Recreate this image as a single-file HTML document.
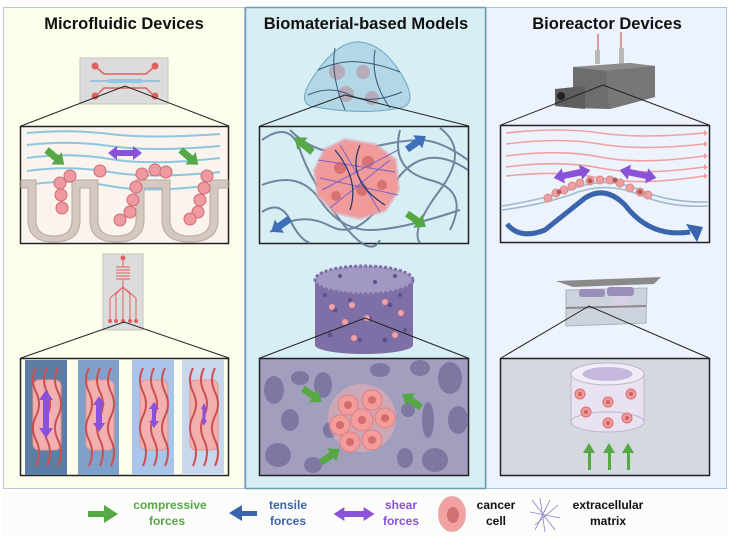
<!DOCTYPE html>
<html><head><meta charset="utf-8"><style>
html,body{margin:0;padding:0;background:#fff;}
svg{display:block;font-family:"Liberation Sans",sans-serif;}
</style></head><body>
<svg width="730" height="537" viewBox="0 0 730 537" xmlns="http://www.w3.org/2000/svg">
<defs>
 <path id="ga" d="M-11,-3.5 H2 V-8 L12,0 L2,8 V3.5 H-11 Z"/>
 <path id="da" d="M-17,0 L-8,-7 V-3 H8 V-7 L17,0 L8,7 V3 H-8 V7 Z"/>
 <g id="cell"><circle r="5" fill="#f09a9a" stroke="#d97070" stroke-width="1"/><circle r="2" fill="#c96464"/></g>
</defs>
<rect width="730" height="537" fill="#fff"/>
<!-- panels -->
<rect x="3.5" y="7.5" width="241" height="481" fill="#fdfdec" stroke="#b8c6df"/>
<rect x="245.5" y="7.5" width="240" height="481" fill="#d7eef5" stroke="#6f9cb4" stroke-width="1.5"/>
<rect x="486.5" y="7.5" width="240" height="481" fill="#ecf3fc" stroke="#b0c2e2"/>
<text x="124" y="29" text-anchor="middle" font-weight="bold" font-size="16.5" fill="#111">Microfluidic Devices</text>
<text x="366" y="29" text-anchor="middle" font-weight="bold" font-size="16.5" fill="#111">Biomaterial-based Models</text>
<text x="607" y="29" text-anchor="middle" font-weight="bold" font-size="16.5" fill="#111">Bioreactor Devices</text>

<!-- LEFT TOP device -->
<rect x="80" y="58" width="88" height="46" fill="#dcdcdc" stroke="#c4c4c4"/>
<g stroke="#e06060" stroke-width="1.5" fill="none">
<path d="M96,67 L104,74 H146 L154,67 M96,96 L104,88 H146 L154,96"/>
</g>
<g fill="#e06060"><circle cx="95" cy="66" r="3.5"/><circle cx="155" cy="66" r="3.5"/><circle cx="95" cy="96" r="3.5"/><circle cx="155" cy="96" r="3.5"/></g>
<path d="M90,81 H160" stroke="#5aa8d8" stroke-width="1"/><rect x="108" y="79" width="34" height="4" fill="#8ec8e4"/>
<path d="M21,126 L125,86 L229,126" fill="none" stroke="#222" stroke-width="1"/>
<rect x="20.5" y="126.5" width="208" height="117" fill="#fbf4ee" stroke="#222" stroke-width="1.5"/>
<g stroke="#8cc6e0" stroke-width="2" fill="none">
<path d="M27,133 Q70,129 110,134 T220,134"/>
<path d="M27,145 Q70,140 110,146 T220,146"/>
<path d="M27,158 Q70,152 110,159 T220,158"/>
<path d="M27,171 Q70,165 110,172 T220,172"/>
<path d="M27,185 Q70,178 110,186 T220,184"/>
</g>
<path d="M21,180 H36 V220 Q36,236 54,236 Q72,236 72,220 V180 H98 V220 Q98,236 116,236 Q136,236 136,220 V180 H170 V220 Q170,236 190,236 Q210,236 210,220 V180 H228 V188 H218 V220 Q218,242 190,242 Q162,242 162,220 V188 H144 V220 Q144,242 116,242 Q90,242 90,220 V188 H80 V220 Q80,242 54,242 Q28,242 28,220 V188 H21 Z" fill="#d4c8c0" stroke="#b8aaa0"/>
<g fill="#ef9aa0" stroke="#d06a74" stroke-width="1">
<circle cx="70" cy="176" r="6"/><circle cx="60" cy="183" r="6"/><circle cx="61" cy="195" r="6"/><circle cx="62" cy="208" r="6"/>
<circle cx="100" cy="171" r="6"/><circle cx="142" cy="174" r="6"/><circle cx="155" cy="170" r="6"/><circle cx="166" cy="172" r="6"/>
<circle cx="136" cy="187" r="6"/><circle cx="133" cy="200" r="6"/><circle cx="130" cy="212" r="6"/><circle cx="120" cy="220" r="6"/>
<circle cx="207" cy="176" r="6"/><circle cx="204" cy="188" r="6"/><circle cx="200" cy="200" r="6"/><circle cx="198" cy="212" r="6"/><circle cx="190" cy="219" r="6"/>
</g>
<use href="#ga" transform="translate(55,157) rotate(40)" fill="#55a844"/>
<use href="#ga" transform="translate(189,157) rotate(40)" fill="#55a844"/>
<use href="#da" transform="translate(125,153)" fill="#8a52d8"/>

<!-- LEFT BOTTOM device -->
<rect x="103" y="254" width="40" height="76" fill="#dcdcdc" stroke="#c4c4c4"/>
<g stroke="#e06060" stroke-width="1" fill="none">
<path d="M116,267 H130 M116,270 H130 M116,273 H130 M116,276 H130 M116,279 H130"/>
<path d="M123,258 V267 M123,279 V287 M110,298 L123,287 L136,298 M116,294 L123,287 L130,294 M123,287 V321 M110,298 V321 M136,298 V321 M116,294 V321 M130,294 V321"/>
</g>
<g fill="#e06060"><circle cx="123" cy="258" r="2.5"/><circle cx="110" cy="321" r="2"/><circle cx="116" cy="321" r="2"/><circle cx="123" cy="321" r="2"/><circle cx="130" cy="321" r="2"/><circle cx="136" cy="321" r="2"/></g>
<path d="M21,358 L124,322 L229,358" fill="none" stroke="#222" stroke-width="1"/>
<rect x="20.5" y="358.5" width="208" height="117" fill="#fdfdec" stroke="#222" stroke-width="1.5"/>
<rect x="25" y="360" width="42" height="115" fill="#5d7ea4"/>
<rect x="78" y="360" width="41" height="115" fill="#7fa0c8"/>
<rect x="132" y="360" width="42" height="115" fill="#a9c6ea"/>
<rect x="182" y="360" width="42" height="115" fill="#c8d7eb"/>
<g>
 <g id="strip">
  <rect x="33" y="380" width="28" height="70" rx="6" fill="#f2b0b0" stroke="#e39494"/>
  <g stroke="#cc5050" stroke-width="2" fill="none">
   <path d="M36,368 Q30,380 36,392 T36,416 T36,440 T36,466"/>
   <path d="M47,368 Q41,380 47,392 T47,416 T47,440 T47,466"/>
   <path d="M58,368 Q52,380 58,392 T58,416 T58,440 T58,466"/>
  </g>
 </g>
 <use href="#strip" transform="translate(53,0)"/>
 <use href="#strip" transform="translate(107,0)"/>
 <use href="#strip" transform="translate(157,0)"/>
</g>
<g fill="#8a52d8">
<path d="M46,390 L53,400 H49 V428 H53 L46,438 L39,428 H43 V400 H39 Z"/>
<path d="M99,396 L105,405 H102 V423 H105 L99,432 L93,423 H96 V405 H93 Z"/>
<path d="M154,402 L159,409 H156 V421 H159 L154,428 L149,421 H152 V409 H149 Z"/>
<path d="M204,403 L207,409 H205.5 V420 H207 L204,426 L201,420 H202.5 V409 H201 Z"/>
</g>

<!-- MIDDLE TOP hydrogel -->
<path d="M310,106 Q296,100 318,70 Q340,40 360,42 Q382,44 400,72 Q420,104 400,108 Q360,116 310,106 Z" fill="#a9d2e4" fill-opacity="0.8" stroke="#6ea4c0"/>
<g fill="#b89aa8" opacity="0.7"><circle cx="337" cy="72" r="8"/><circle cx="363" cy="72" r="7"/><circle cx="346" cy="94" r="8"/><circle cx="372" cy="98" r="7"/></g>
<g stroke="#355878" stroke-width="1" fill="none">
<path d="M318,70 Q340,60 360,62 T400,72"/><path d="M308,95 Q330,85 350,95 T402,92"/><path d="M335,48 Q330,75 345,110"/><path d="M375,50 Q370,80 390,108"/>
</g>
<path d="M260,126 L345,95 L469,126" fill="none" stroke="#222" stroke-width="1"/>
<rect x="259.5" y="126.5" width="209" height="117" fill="#d7eef5" stroke="#222" stroke-width="1.5"/>
<g stroke="#5b7590" stroke-width="2" fill="none" opacity="0.85">
<path d="M262,140 Q290,120 300,150 T340,220 T380,240"/>
<path d="M262,185 Q300,170 320,200 T370,230 T460,210"/>
<path d="M270,232 Q300,210 330,226 T390,190 T468,170"/>
<path d="M290,130 Q320,160 360,150 T420,140 T468,160"/>
<path d="M400,130 Q390,170 430,180 T450,230"/>
<path d="M440,128 Q470,150 440,190 T420,243"/>
<path d="M262,212 Q280,200 290,220 T310,243"/>
</g>
<path d="M325,150 L345,140 L375,145 L395,160 L398,190 L385,210 L360,218 L335,212 L318,195 L315,170 Z" fill="#f09a9a" stroke="#e6a0a8" stroke-width="4" stroke-opacity="0.6"/>
<g fill="#d87272"><circle cx="340" cy="168" r="6"/><circle cx="368" cy="162" r="6"/><circle cx="362" cy="190" r="6"/><circle cx="336" cy="196" r="5"/><circle cx="382" cy="185" r="5"/></g>
<g stroke="#8060c8" stroke-width="1" fill="none"><path d="M318,160 L395,172 M322,190 L398,150 M340,145 L380,212 M330,208 L390,160 M320,178 L398,195"/></g>
<g stroke="#1e3a6a" stroke-width="1.2" fill="none"><path d="M335,150 Q360,180 350,210 M360,145 Q345,180 385,205"/></g>
<use href="#ga" transform="translate(304,145) rotate(-140)" fill="#55a844"/>
<use href="#ga" transform="translate(416,143) rotate(-35)" fill="#3e6fb8"/>
<use href="#ga" transform="translate(281,225) rotate(145)" fill="#3e6fb8"/>
<use href="#ga" transform="translate(416,220) rotate(35)" fill="#55a844"/>

<!-- MIDDLE BOTTOM scaffold -->
<rect x="315" y="280" width="98" height="65" fill="#7e70a6"/>
<ellipse cx="364" cy="345" rx="49" ry="9" fill="#7e70a6"/>
<ellipse cx="364" cy="280" rx="49" ry="14" fill="#a298c4" stroke="#7e70a6" stroke-width="3" stroke-dasharray="3 2"/>
<g fill="#5e4f8e"><circle cx="325" cy="295" r="2"/><circle cx="335" cy="310" r="2.5"/><circle cx="350" cy="300" r="2"/><circle cx="370" cy="318" r="2"/><circle cx="390" cy="305" r="2.5"/><circle cx="405" cy="330" r="2"/><circle cx="330" cy="335" r="2.5"/><circle cx="360" cy="340" r="2"/><circle cx="385" cy="340" r="2.5"/><circle cx="345" cy="322" r="2"/><circle cx="400" cy="295" r="2"/><circle cx="340" cy="276" r="2"/><circle cx="375" cy="282" r="2"/><circle cx="395" cy="276" r="2"/></g>
<g fill="#f2a0a0"><circle cx="332" cy="307" r="3"/><circle cx="352" cy="305" r="3"/><circle cx="385" cy="302" r="3"/><circle cx="401" cy="313" r="3"/><circle cx="345" cy="322" r="3"/><circle cx="367" cy="318" r="3"/><circle cx="395" cy="335" r="3"/><circle cx="354" cy="338" r="3"/></g>
<path d="M260,358 L365,318 L468,358" fill="none" stroke="#222" stroke-width="1"/>
<rect x="259.5" y="358.5" width="209" height="117" fill="#a29ebe" stroke="#222" stroke-width="1.5"/>
<g fill="#7d78a2">
<ellipse cx="274" cy="390" rx="10" ry="14"/><ellipse cx="300" cy="378" rx="9" ry="7"/><ellipse cx="323" cy="385" rx="9" ry="13"/><ellipse cx="290" cy="420" rx="9" ry="11"/><ellipse cx="278" cy="455" rx="13" ry="12"/><ellipse cx="313" cy="465" rx="9" ry="8"/>
<ellipse cx="420" cy="368" rx="10" ry="8"/><ellipse cx="450" cy="378" rx="12" ry="16"/><ellipse cx="408" cy="410" rx="7" ry="7"/><ellipse cx="428" cy="420" rx="6" ry="18"/><ellipse cx="458" cy="420" rx="10" ry="14"/><ellipse cx="435" cy="460" rx="13" ry="12"/><ellipse cx="405" cy="458" rx="8" ry="10"/><ellipse cx="380" cy="370" rx="10" ry="7"/><ellipse cx="330" cy="430" rx="7" ry="8"/>
</g>
<circle cx="362" cy="418" r="34" fill="#f2b2b2" opacity="0.5"/>
<g fill="#f29c9c" stroke="#e08080">
<circle cx="348" cy="405" r="10"/><circle cx="372" cy="400" r="10"/><circle cx="385" cy="418" r="10"/><circle cx="340" cy="425" r="10"/><circle cx="362" cy="420" r="11"/><circle cx="372" cy="440" r="10"/><circle cx="350" cy="442" r="10"/>
</g>
<g fill="#d46c6c"><circle cx="348" cy="405" r="4"/><circle cx="372" cy="400" r="4"/><circle cx="385" cy="418" r="4"/><circle cx="340" cy="425" r="4"/><circle cx="362" cy="420" r="4"/><circle cx="372" cy="440" r="4"/><circle cx="350" cy="442" r="4"/></g>
<use href="#ga" transform="translate(312,395) rotate(35)" fill="#55a844"/>
<use href="#ga" transform="translate(412,401) rotate(-145)" fill="#55a844"/>
<use href="#ga" transform="translate(330,456) rotate(-35)" fill="#55a844"/>

<!-- RIGHT TOP bioreactor -->
<path d="M598,34 V56 M621,32 V56" stroke="#c04040" stroke-width="1"/>
<rect x="595" y="50" width="5" height="14" fill="#b8b8b8"/><rect x="619" y="48" width="5" height="16" fill="#b8b8b8"/>
<path d="M573,67 L630,63 L655,66 L655,97 L610,109 L573,108 Z" fill="#6d6d6d"/>
<path d="M573,67 L630,63 L655,66 L606,71 Z" fill="#8c8c8c"/>
<path d="M606,71 L655,66 L655,97 L609,109 Z" fill="#777"/>
<path d="M555,89 L585,86 L585,109 L555,106 Z" fill="#5e5e5e"/>
<circle cx="561" cy="96" r="4" fill="#222"/>
<path d="M501,125 L603,85 L709,125" fill="none" stroke="#222" stroke-width="1"/>
<rect x="500.5" y="125.5" width="209" height="117" fill="#ecf3fc" stroke="#222" stroke-width="1.5"/>
<g stroke="#f0a0a0" stroke-width="1.6" fill="none">
<path d="M506,133 Q560,127 600,133 T704,133"/>
<path d="M506,144 Q560,137 600,144 T704,144"/>
<path d="M506,156 Q560,149 600,157 T704,156"/>
<path d="M506,167 Q560,160 600,168 T704,167"/>
<path d="M506,176 Q560,170 600,178 T704,176"/>
</g>
<g fill="#f0a0a0"><path d="M704,130 L708,133 L704,136Z"/><path d="M704,141 L708,144 L704,147Z"/><path d="M704,153 L708,156 L704,159Z"/><path d="M704,164 L708,167 L704,170Z"/><path d="M704,173 L708,176 L704,179Z"/></g>
<path d="M502,206 Q540,200 570,190 Q605,175 640,190 Q670,203 709,202" stroke="#9fb8cc" stroke-width="1.5" fill="none"/>
<path d="M502,210 Q540,205 570,195 Q605,180 640,195 Q670,208 709,206" stroke="#9fb8cc" stroke-width="1.5" fill="none"/>
<g fill="#eca0a0" stroke="#d88a8a">
<circle cx="548" cy="198" r="4"/><circle cx="556" cy="193" r="4"/><circle cx="564" cy="190" r="4"/><circle cx="572" cy="186" r="4"/><circle cx="580" cy="183" r="4"/><circle cx="590" cy="181" r="4"/><circle cx="600" cy="180" r="4"/><circle cx="610" cy="180" r="4"/><circle cx="620" cy="183" r="4"/><circle cx="630" cy="188" r="4"/><circle cx="640" cy="192" r="4"/><circle cx="648" cy="195" r="4"/>
</g>
<g fill="#b85858"><circle cx="559" cy="192" r="2.5"/><circle cx="590" cy="181" r="2.5"/><circle cx="615" cy="180" r="2.5"/><circle cx="640" cy="192" r="2.5"/></g>
<path d="M507,224 Q520,240 545,230 Q570,210 585,198 Q605,185 625,205 Q650,238 690,232" stroke="#3a64ac" stroke-width="5" fill="none"/>
<path d="M686,224 L703,227 L697,242 Z" fill="#3a64ac"/>
<use href="#da" transform="translate(572,174) rotate(-12) scale(1.1)" fill="#8a52d8"/>
<use href="#da" transform="translate(638,174) rotate(12) scale(1.1)" fill="#8a52d8"/>

<!-- RIGHT BOTTOM compression -->
<path d="M566,290 L647,288 L646,323 L566,326 Z" fill="#cdd3dc" stroke="#aab2be"/>
<path d="M556,281 L661,277 L654,284 L573,287 Z" fill="#8a8a8a"/>
<rect x="579" y="289" width="26" height="8" rx="3" fill="#9a8eba"/><rect x="607" y="287" width="27" height="9" rx="3" fill="#9a8eba"/>
<rect x="612" y="297" width="17" height="12" fill="#d8d0e6"/>
<path d="M566,308 L646,306" stroke="#8a8a8a" stroke-width="2"/>
<path d="M501,358 L589,306 L709,358" fill="none" stroke="#222" stroke-width="1"/>
<rect x="500.5" y="358.5" width="209" height="117" fill="#d5d9df" stroke="#222" stroke-width="1.5"/>
<rect x="571" y="374" width="73" height="48" fill="#e9e2f0"/>
<ellipse cx="607.5" cy="422" rx="36.5" ry="10" fill="#e9e2f0" stroke="#c0b4d0"/>
<path d="M571,374 V422 M644,374 V422" stroke="#c0b4d0"/>
<ellipse cx="607.5" cy="374" rx="36.5" ry="11" fill="#f1edf6" stroke="#c0b4d0"/>
<ellipse cx="607.5" cy="374" rx="25" ry="7" fill="#c6b8dc"/>
<g><use href="#cell" x="580" y="394"/><use href="#cell" x="608" y="402"/><use href="#cell" x="631" y="394"/><use href="#cell" x="586" y="412"/><use href="#cell" x="627" y="418"/><use href="#cell" x="608" y="423"/></g>
<g fill="#55a844">
<path d="M588,470 V453 H583 L589,443 L595,453 H591 V470 Z"/>
<path d="M608,470 V453 H603 L609,443 L615,453 H611 V470 Z"/>
<path d="M627,470 V453 H622 L628,443 L634,453 H630 V470 Z"/>
</g>

<!-- LEGEND -->
<rect x="2" y="492" width="726" height="44" fill="#fcfcfa"/>
<path d="M88,511 H104 V505 L118,514 L104,523 V517 H88 Z" fill="#55a844"/>
<text x="170" y="509" text-anchor="middle" font-weight="bold" font-size="12" fill="#55a844">compressive</text>
<text x="167" y="525" text-anchor="middle" font-weight="bold" font-size="12" fill="#55a844">forces</text>
<path d="M257,511 H242 V505 L229,513 L242,521 V516 H257 Z" fill="#3a64ac"/>
<text x="288" y="509" text-anchor="middle" font-weight="bold" font-size="12" fill="#3a64ac">tensile</text>
<text x="288" y="525" text-anchor="middle" font-weight="bold" font-size="12" fill="#3a64ac">forces</text>
<use href="#da" transform="translate(354,514) scale(1.2,1)" fill="#8a52d8"/>
<text x="401" y="509" text-anchor="middle" font-weight="bold" font-size="12" fill="#8a52d8">shear</text>
<text x="401" y="525" text-anchor="middle" font-weight="bold" font-size="12" fill="#8a52d8">forces</text>
<ellipse cx="452" cy="514" rx="13" ry="17" fill="#f2a0a0" stroke="#e8a8a8" stroke-width="2"/>
<ellipse cx="453" cy="515" rx="6" ry="8" fill="#d07070"/>
<text x="496" y="509" text-anchor="middle" font-weight="bold" font-size="12" fill="#111">cancer</text>
<text x="496" y="525" text-anchor="middle" font-weight="bold" font-size="12" fill="#111">cell</text>
<g stroke="#8a80c8" stroke-width="0.8" fill="none"><path d="M532,500 L555,530 M535,525 L558,505 M530,512 L560,518 M540,498 L545,532 M550,500 L535,530"/></g>
<text x="608" y="509" text-anchor="middle" font-weight="bold" font-size="12" fill="#111">extracellular</text>
<text x="608" y="525" text-anchor="middle" font-weight="bold" font-size="12" fill="#111">matrix</text>
</svg>
</body></html>
